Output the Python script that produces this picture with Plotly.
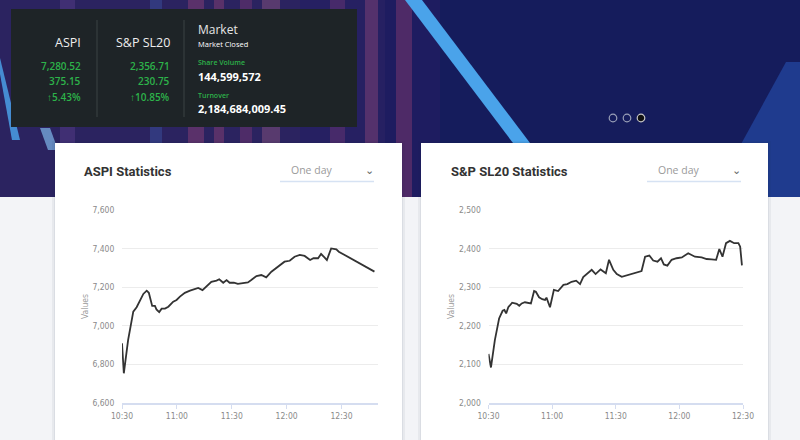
import plotly.graph_objects as go

W, H = 800, 440
DAY = "2024-01-01 "

# ---------------- data ----------------
aspi_times = ["10:30:00", "10:31:00", "10:33:20", "10:36:10", "10:38:00", "10:39:50", "10:41:40",
              "10:43:30", "10:44:40", "10:45:40", "10:46:30", "10:48:00", "10:48:50", "10:50:20",
              "10:51:40", "10:53:30", "10:55:20", "10:58:00", "10:59:50", "11:01:40", "11:04:20",
              "11:07:10", "11:09:50", "11:11:40", "11:14:00", "11:16:10", "11:18:50", "11:21:40",
              "11:23:10", "11:25:20", "11:27:10", "11:28:50", "11:31:10", "11:33:20", "11:36:10",
              "11:38:50", "11:40:40", "11:43:30", "11:46:10", "11:48:50", "11:51:40", "11:53:30",
              "11:56:10", "11:58:50", "12:01:40", "12:04:20", "12:07:10", "12:09:50", "12:12:50",
              "12:14:40", "12:17:10", "12:18:50", "12:20:40", "12:22:00", "12:24:20", "12:27:10",
              "12:28:30", "12:48:00"]
aspi_values = [6909, 6754, 6926, 7073, 7096, 7134, 7165,
               7182, 7171, 7134, 7103, 7103, 7085, 7071,
               7089, 7089, 7099, 7125, 7134, 7151, 7171,
               7182, 7189, 7196, 7185, 7203, 7228, 7234,
               7241, 7223, 7237, 7223, 7223, 7217, 7223,
               7225, 7237, 7258, 7263, 7251, 7280, 7293,
               7315, 7332, 7337, 7358, 7367, 7362, 7341,
               7350, 7350, 7372, 7355, 7341, 7401, 7396,
               7384, 7280.52]

sl20_times = ["10:30:00", "10:31:10", "10:33:00", "10:35:00", "10:36:40", "10:37:30", "10:38:20",
              "10:39:20", "10:41:10", "10:43:20", "10:44:30", "10:45:40", "10:47:10", "10:49:00",
              "10:50:00", "10:51:30", "10:52:20", "10:53:50", "10:55:20", "10:56:40", "10:57:20",
              "10:59:00", "11:00:50", "11:02:50", "11:05:20", "11:07:10", "11:09:10", "11:11:20",
              "11:13:10", "11:14:40", "11:16:40", "11:18:40", "11:20:30", "11:22:50", "11:25:20",
              "11:26:50", "11:28:50", "11:30:30", "11:32:50", "11:35:50", "11:39:10", "11:42:10",
              "11:43:50", "11:45:50", "11:47:40", "11:49:40", "11:51:20", "11:52:40", "11:54:20",
              "11:56:20", "11:58:40", "12:01:10", "12:04:10", "12:07:20", "12:10:30", "12:12:50",
              "12:15:10", "12:17:20", "12:18:50", "12:20:20", "12:22:00", "12:23:50", "12:25:50",
              "12:27:50", "12:28:40", "12:29:30"]
sl20_values = [2127, 2092, 2163, 2219, 2239, 2241, 2232,
               2248, 2260, 2257, 2252, 2258, 2261, 2260,
               2258, 2290, 2288, 2274, 2269, 2267, 2273,
               2248, 2293, 2290, 2306, 2308, 2314, 2317,
               2308, 2326, 2336, 2345, 2334, 2346, 2336,
               2371, 2345, 2334, 2327, 2332, 2336, 2342,
               2379, 2382, 2369, 2366, 2375, 2359, 2356,
               2371, 2375, 2377, 2388, 2379, 2377, 2373,
               2372, 2371, 2399, 2379, 2414, 2420, 2414,
               2414, 2405, 2356.71]

x_tick_times = ["10:30:00", "11:00:00", "11:30:00", "12:00:00", "12:30:00"]
x_tick_labels = ["10:30", "11:00", "11:30", "12:00", "12:30"]
aspi_y_ticks = [6600, 6800, 7000, 7200, 7400, 7600]
sl20_y_ticks = [2000, 2100, 2200, 2300, 2400, 2500]

summary_names = ["ASPI", "S&P SL20"]
summary_values = ["7,280.52", "2,356.71"]
summary_changes = ["375.15", "230.75"]
summary_pcts = ["5.43%", "10.85%"]
market_status = "Market Closed"
share_volume = "144,599,572"
turnover = "2,184,684,009.45"


# ---------------- helpers ----------------
def px(x):
    return x / W


def py(y):
    return 1 - y / H


def rect(x0, y0, x1, y1, fill, line=None, lw=0, opacity=1.0):
    return dict(type="rect", xref="paper", yref="paper", x0=px(x0), x1=px(x1),
                y0=py(y1), y1=py(y0), fillcolor=fill, opacity=opacity,
                line=dict(color=line or "rgba(0,0,0,0)", width=lw), layer="below")


def poly(points, fill, opacity=1.0):
    d = "M " + " L ".join(f"{px(x):.5f},{py(y):.5f}" for x, y in points) + " Z"
    return dict(type="path", xref="paper", yref="paper", path=d, fillcolor=fill,
                opacity=opacity, line=dict(width=0), layer="below")


def line_shape(x0, y0, x1, y1, color, w=1):
    return dict(type="line", xref="paper", yref="paper", x0=px(x0), x1=px(x1),
                y0=py(y0), y1=py(y1), line=dict(color=color, width=w), layer="below")


def circle(cx, cy, r, fill, line, lw=1.2):
    return dict(type="circle", xref="paper", yref="paper", x0=px(cx - r), x1=px(cx + r),
                y0=py(cy + r), y1=py(cy - r), fillcolor=fill,
                line=dict(color=line, width=lw), layer="above")


def text(x, y, s, size, color, anchor="left", family="Open Sans", weight=400):
    return dict(x=px(x), y=py(y), xref="paper", yref="paper", text=s, showarrow=False,
                xanchor=anchor, yanchor="middle",
                font=dict(size=size, color=color, family=family, weight=weight))


# ---------------- figure ----------------
fig = go.Figure()

fig.add_trace(go.Scatter(x=[DAY + t for t in aspi_times], y=aspi_values, mode="lines",
                         line=dict(color="#333333", width=1.8), xaxis="x", yaxis="y",
                         hoverinfo="skip", showlegend=False))
fig.add_trace(go.Scatter(x=[DAY + t for t in sl20_times], y=sl20_values, mode="lines",
                         line=dict(color="#333333", width=1.8), xaxis="x2", yaxis="y2",
                         hoverinfo="skip", showlegend=False))

shapes = []
# banner
shapes.append(rect(0, 0, 800, 197, "#151c5c"))
shapes.append(rect(0, 0, 440, 197, "#2b2360"))
shapes.append(rect(300, 0, 440, 197, "#262062"))
shapes.append(rect(385, 0, 440, 197, "#1e1c60"))
for x0, x1, c, op in [(60, 75, "#5b3f8c", 0.45), (150, 162, "#3f63b8", 0.35), (188, 204, "#a3467a", 0.4),
                      (214, 224, "#b04c7a", 0.35), (240, 252, "#8e3f78", 0.35), (262, 280, "#c07090", 0.3),
                      (330, 345, "#7a3a78", 0.4), (365, 378, "#9a4a7c", 0.4), (396, 412, "#8a3c70", 0.45)]:
    shapes.append(rect(x0, 0, x1, 197, c, opacity=op))
shapes.append(poly([(0, 58), (0, 74), (12, 140), (20, 140)], "#4a9fe6", 0.85))
shapes.append(poly([(40, 128), (50, 128), (58, 150), (48, 150)], "#7fb6ea", 0.7))
shapes.append(poly([(712, 197), (786, 62), (800, 62), (800, 197)], "#1f3b8e"))
shapes.append(poly([(405, 0), (422, 0), (530, 143), (513, 143)], "#4aa3ea"))
# lower page
shapes.append(rect(0, 197, 800, 440, "#f3f4f7"))
# info box
shapes.append(rect(11, 9, 357, 127, "#1e2427"))
shapes.append(line_shape(97, 20, 97, 117, "#3a4245"))
shapes.append(line_shape(184, 20, 184, 117, "#3a4245"))
# cards
for x0, x1 in [(55, 402), (421, 768)]:
    shapes.append(rect(x0 - 3, 141, x1 + 3, 440, "rgba(20,30,60,0.05)"))
    shapes.append(rect(x0 - 1, 142, x1 + 1, 440, "rgba(20,30,60,0.06)"))
    shapes.append(rect(x0, 143, x1, 440, "#ffffff"))
# dropdown underlines
shapes.append(line_shape(280, 181.5, 374, 181.5, "#d6e2f3", 1.5))
shapes.append(line_shape(647, 181.5, 741, 181.5, "#d6e2f3", 1.5))
# carousel dots
shapes.append(circle(613, 118, 3.8, "rgba(0,0,0,0)", "#9aa0b8"))
shapes.append(circle(627, 118, 3.8, "rgba(0,0,0,0)", "#9aa0b8"))
shapes.append(circle(641, 118, 3.8, "#111111", "#c8c8c8"))

green = "#2db34a"
ann = []
# info box texts
for i, xr in enumerate([83, 171.5]):
    ann.append(text(xr, 42, summary_names[i], 12.5, "#eeeeee", "right"))
    ann.append(text(xr, 65.5, summary_values[i], 10, green, "right", weight=600))
    ann.append(text(xr, 80.5, summary_changes[i], 10, green, "right", weight=600))
    ann.append(text(xr, 97.5, "↑" + summary_pcts[i], 10, green, "right", weight=600))
ann.append(text(196, 29, "Market", 12, "#e6e6e6"))
ann.append(text(196, 44, market_status, 7.5, "#ffffff"))
ann.append(text(196, 62.5, "Share Volume", 7, green, weight=600))
ann.append(text(196, 76, share_volume, 11, "#ffffff", weight=700))
ann.append(text(196, 95.5, "Turnover", 7, green, weight=600))
ann.append(text(196, 108.5, turnover, 11, "#ffffff", weight=700))
# card headers
ann.append(text(82, 172, "ASPI Statistics", 13, "#333333", family="Roboto", weight=700))
ann.append(text(449, 172, "S&P SL20 Statistics", 13, "#333333", family="Roboto", weight=700))
ann.append(text(289, 169.5, "One day", 10.5, "#9a9a9a"))
ann.append(text(656, 169.5, "One day", 10.5, "#9a9a9a"))
ann.append(text(369, 170, "⌄", 11, "#666666", "center", family="DejaVu Sans"))
ann.append(text(736, 170, "⌄", 11, "#666666", "center", family="DejaVu Sans"))

tick_font = dict(size=8.5, color="#8a8a8a", family="Liberation Sans Narrow, DejaVu Sans Condensed, Roboto, sans-serif")
title_font = dict(size=8.5, color="#9a9a9a", family="Liberation Sans Narrow, DejaVu Sans Condensed, Roboto, sans-serif")
ydom = [py(403), py(210)]


def xaxis_cfg(domain, end):
    return dict(domain=domain, type="date", range=[DAY + "10:30:00", DAY + end],
                tickvals=[DAY + t for t in x_tick_times], ticktext=x_tick_labels,
                showgrid=False, zeroline=False, showline=True, linecolor="#d5ddf0", linewidth=1.5,
                ticks="outside", ticklen=4, tickcolor="#d5ddf0", tickfont=tick_font,
                fixedrange=True, automargin=False)


def yaxis_cfg(anchor, rng, ticks):
    return dict(domain=ydom, anchor=anchor, range=rng, tickvals=ticks,
                ticktext=[f"{v:,}" for v in ticks], showgrid=True, gridcolor="#ececec",
                gridwidth=1, zeroline=False, showline=False, ticks="outside", ticklen=5,
                tickcolor="rgba(0,0,0,0)", tickfont=tick_font, automargin=False,
                title=dict(text="Values", font=title_font, standoff=2), fixedrange=True)


fig.update_layout(
    width=W, height=H, margin=dict(l=0, r=0, t=0, b=0, pad=0, autoexpand=False),
    autosize=False,
    paper_bgcolor="#f3f4f7", plot_bgcolor="rgba(0,0,0,0)",
    xaxis=dict(anchor="y", **xaxis_cfg([px(122), px(377.5)], "12:49:40")),
    yaxis=yaxis_cfg("x", [6600, 7600], aspi_y_ticks),
    xaxis2=dict(anchor="y2", **xaxis_cfg([px(488.5), px(743)], "12:30:00")),
    yaxis2=yaxis_cfg("x2", [2000, 2500], sl20_y_ticks),
    shapes=shapes, annotations=ann, showlegend=False,
)

fig.write_html("out.html", config={"displayModeBar": False, "staticPlot": True},
               post_script="document.body.style.margin='0';document.body.style.padding='0';"
                           "document.body.style.overflow='hidden';")
